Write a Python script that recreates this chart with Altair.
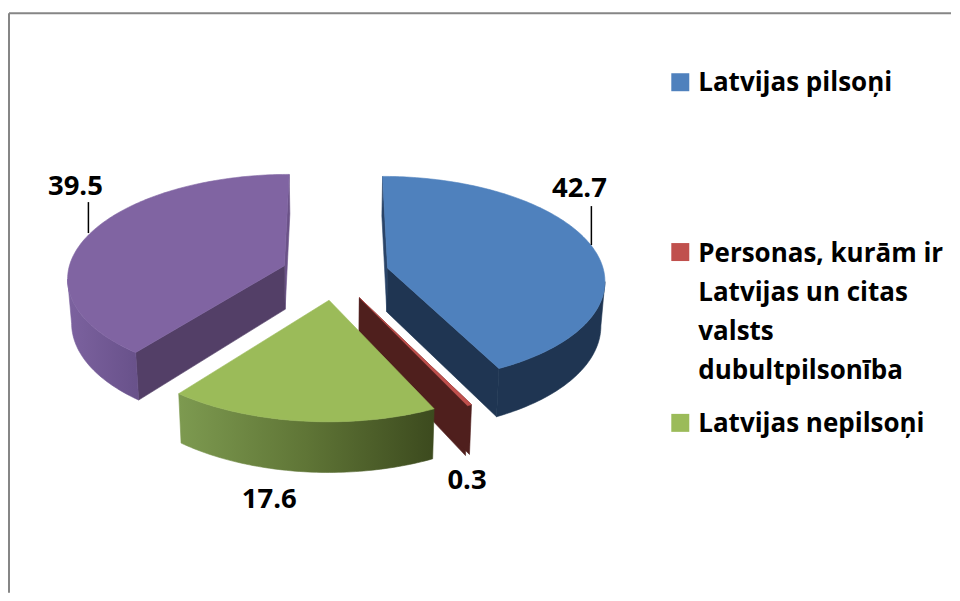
import math
import altair as alt
import pandas as pd

CATEGORIES = ["Latvijas pilsoņi", "Personas, kurām ir\nLatvijas un citas\nvalsts\ndubultpilsonība", "Latvijas nepilsoņi", "Ārvalstu pilsoņi"]
VALUES = [42.7, 0.3, 17.6, 39.5]
LABELS = ["42.7", "0.3", "17.6", "39.5"]
TOP = ["#4F81BD", "#C0504D", "#9BBB59", "#8064A2"]
CUT = ["#1F3552", "#4F1F1D", "#3F4C20", "#533F67"]

PAGE = 8
W, H = 944, 585
CX, CY, RX, RY, K, EXPL, DEPTH, SHRINK = 335.5, 274, 217, 102.8, 0.106, 0.25, 44, 0.985
FONT = "Open Sans"
FS = 26
LABEL_FS = 27.5

total = sum(VALUES)
spans = []
acc = 0.0
for v in VALUES:
    a = acc / total * 2 * math.pi
    acc += v
    spans.append((a, acc / total * 2 * math.pi))


def offset(i):
    a, b = spans[i]
    m = (a + b) / 2
    return EXPL * math.sin(m), EXPL * math.cos(m)


def project(X, Y, lower=False):
    f = 1 / (1 + K * Y)
    sx = CX + RX * X * f
    sy = CY - RY * Y * f
    if lower:
        sx = CX + (sx - CX) * SHRINK
        sy = sy + DEPTH * f
    return sx, sy


def rim(i, t, lower=False):
    dx, dy = offset(i)
    return project(dx + math.sin(t), dy + math.cos(t), lower)


def apex(i, lower=False):
    dx, dy = offset(i)
    return project(dx, dy, lower)


def arc(i, a, b, lower=False):
    n = max(2, int(abs(b - a) * 180 / math.pi))
    return [rim(i, a + (b - a) * j / n, lower) for j in range(n + 1)]


def shape(points, fill):
    df = pd.DataFrame({"x": [p[0] for p in points], "y": [p[1] for p in points], "i": list(range(len(points)))})
    return alt.Chart(df).mark_line(fill=fill, stroke=fill, strokeWidth=0.6, interpolate="linear-closed").encode(
        x=alt.X("x:Q", scale=alt.Scale(domain=[PAGE, PAGE + W], range=[0, W], nice=False, zero=False), axis=None),
        y=alt.Y("y:Q", scale=alt.Scale(domain=[PAGE, PAGE + H], range=[0, H], nice=False, zero=False), axis=None),
        order=alt.Order("i:Q"),
    )


def grad(*stops):
    return alt.LinearGradient(gradient="linear", x1=0, x2=1, y1=0, y2=0,
                              stops=[alt.GradientStop(offset=o, color=c) for o, c in stops])


def cut_face(i, t, fill):
    return shape([apex(i), rim(i, t), rim(i, t, True), apex(i, True)], fill)


def top_face(i):
    a, b = spans[i]
    return shape([apex(i)] + arc(i, a, b), TOP[i])


def rim_face(i, a, b, fill):
    return shape(arc(i, a, b) + arc(i, b, a, True), fill)


layers = []
# purple
a, b = spans[3]
layers += [
    cut_face(3, b, "#6B5288"),
    cut_face(3, a, CUT[3]),
    rim_face(3, a, math.radians(262.5), grad((0, "#7C629F"), (1, "#68518A"))),
    top_face(3),
]
# blue
a, b = spans[0]
layers += [
    cut_face(0, a, "#2A4468"),
    cut_face(0, b, CUT[0]),
    rim_face(0, math.radians(97.5), b, CUT[0]),
    top_face(0),
]
# red
a, b = spans[1]
layers += [cut_face(1, b, CUT[1]), cut_face(1, a, CUT[1]), top_face(1)]
# green
a, b = spans[2]
layers += [
    rim_face(2, b, a, grad((0, "#7D9A50"), (0.5, "#5F7536"), (1, "#3C4A1E"))),
    top_face(2),
]


def px(v):
    return alt.value(v - PAGE)


def marker(x0, x1, y0, y1, color):
    return alt.Chart(pd.DataFrame({"k": [0]})).mark_rect(color=color).encode(
        x=px(x0), x2=px(x1), y=px(y0), y2=px(y1))


def line(x0, x1, y0, y1, color="#000000", width=1.5):
    return alt.Chart(pd.DataFrame({"k": [0]})).mark_rule(color=color, strokeWidth=width).encode(
        x=px(x0), x2=px(x1), y=px(y0), y2=px(y1))


def text(s, x, y, align="left", size=FS):
    return alt.Chart(pd.DataFrame({"t": [s]})).mark_text(
        font=FONT, fontWeight="bold", fontSize=size, color="#000000", align=align, baseline="alphabetic",
        lineBreak="\n", lineHeight=39).encode(x=px(x), y=px(y), text="t:N")


# frame
layers += [line(9, 952, 13, 13, "#868686", 2), line(9, 9, 13, 593, "#868686", 2)]
# leader lines
layers += [line(592, 592, 206, 245), line(88.5, 88.5, 202, 233)]
# data labels
layers += [
    text(LABELS[0], 580, 197, "center", LABEL_FS),
    text(LABELS[1], 467.5, 489, "center", LABEL_FS),
    text(LABELS[2], 269.5, 508.5, "center", LABEL_FS),
    text(LABELS[3], 75.5, 194.5, "center", LABEL_FS),
]
# legend
layers += [
    marker(672, 690, 73, 91, TOP[0]), text(CATEGORIES[0], 699, 91),
    marker(672, 690, 243, 261, TOP[1]), text(CATEGORIES[1], 699, 262),
    marker(672, 690, 414, 432, TOP[2]), text(CATEGORIES[2], 699, 432),
]

chart = alt.layer(*layers).properties(width=W, height=H, padding=0, background="#FFFFFF").configure_view(stroke=None)
chart.save("out.html", embed_options={"renderer": "svg", "actions": False})
